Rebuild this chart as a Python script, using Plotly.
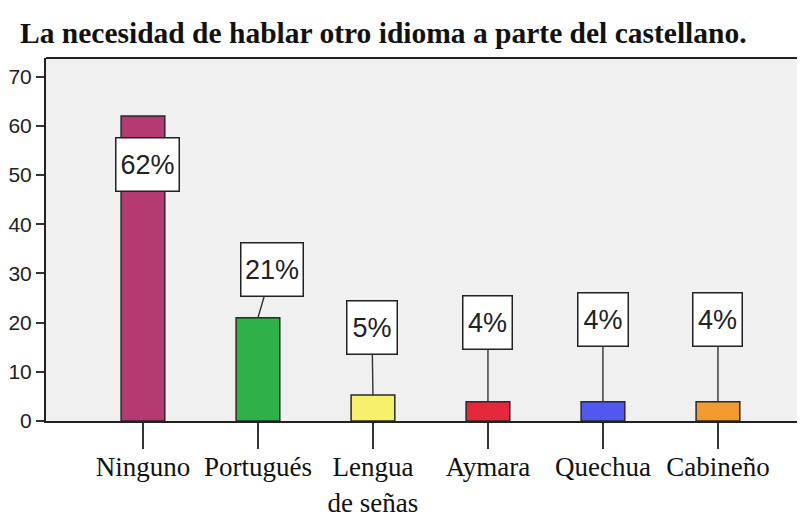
import plotly.graph_objects as go

categories = ["Ninguno", "Portugués", "Lengua de señas", "Aymara", "Quechua", "Cabineño"]
tick_labels = ["Ninguno", "Portugués", "Lengua<br>de señas", "Aymara", "Quechua", "Cabineño"]
values = [62, 21, 5.3, 3.9, 3.9, 3.9]
pct_labels = ["62%", "21%", "5%", "4%", "4%", "4%"]
colors = ["#B63A72", "#2DB148", "#F7F06A", "#E5283A", "#5257F0", "#F29A2E"]
title_text = "La necesidad de hablar otro idioma a parte del castellano."

# label box offsets (pixels) relative to bar top, and box sizes
box_dx = [5, 14, -1, 0, 0, 0]
box_dy = [48, -48, -67, -79, -82, -82]
box_w = [60, 59, 47, 46, 47, 46]

# page body has an 8px margin, so the figure is 8px smaller on each far side
W, H = 797, 513

fig = go.Figure()
fig.add_trace(go.Bar(
    x=categories, y=values,
    marker=dict(color=colors, line=dict(color="#2a2a2a", width=1.5)),
    width=0.38,
))

annotations = []
for i, (c, v, t) in enumerate(zip(categories, values, pct_labels)):
    common = dict(
        x=c, y=v, text=t,
        font=dict(family="Liberation Sans", size=27, color="#222"),
        bgcolor="white", bordercolor="#222", borderwidth=1.5, borderpad=1,
        width=box_w[i], height=50,
    )
    if i == 0:
        annotations.append(dict(showarrow=False, xshift=box_dx[i], yshift=-box_dy[i], **common))
    else:
        annotations.append(dict(showarrow=True, arrowhead=0, arrowwidth=1.4, arrowcolor="#333",
                                ax=box_dx[i], ay=box_dy[i], **common))

fig.update_layout(
    width=W, height=H,
    margin=dict(l=38, r=0, t=50, b=100),
    paper_bgcolor="white", plot_bgcolor="#F0F0F0",
    showlegend=False,
    title=dict(text=title_text, x=12 / W, xanchor="left", xref="container",
               y=1 - 25 / H, yanchor="middle", yref="container",
               font=dict(family="Liberation Serif", size=29.5, color="#111", weight="bold")),
    annotations=annotations,
    xaxis=dict(type="category", range=[-0.843, 5.757], tickvals=categories, ticktext=tick_labels,
               showline=True, linecolor="#222", linewidth=2,
               ticks="outside", ticklen=26, tickwidth=2, tickcolor="#333",
               ticklabelstandoff=-5,
               tickfont=dict(family="Liberation Serif", size=27, color="#111"),
               showgrid=False, fixedrange=True, automargin=False),
    yaxis=dict(range=[0, 73.8], tickvals=[0, 10, 20, 30, 40, 50, 60, 70],
               showline=True, linecolor="#222", linewidth=2,
               ticks="outside", ticklen=8, tickwidth=2, tickcolor="#333",
               tickfont=dict(family="Liberation Sans", size=21, color="#222"),
               showgrid=False, zeroline=False, fixedrange=True, automargin=False),
    shapes=[dict(type="line", xref="paper", yref="paper", x0=0, x1=1, y0=1, y1=1,
                 line=dict(color="#222", width=2))],
)

fig.write_html("out.html")
